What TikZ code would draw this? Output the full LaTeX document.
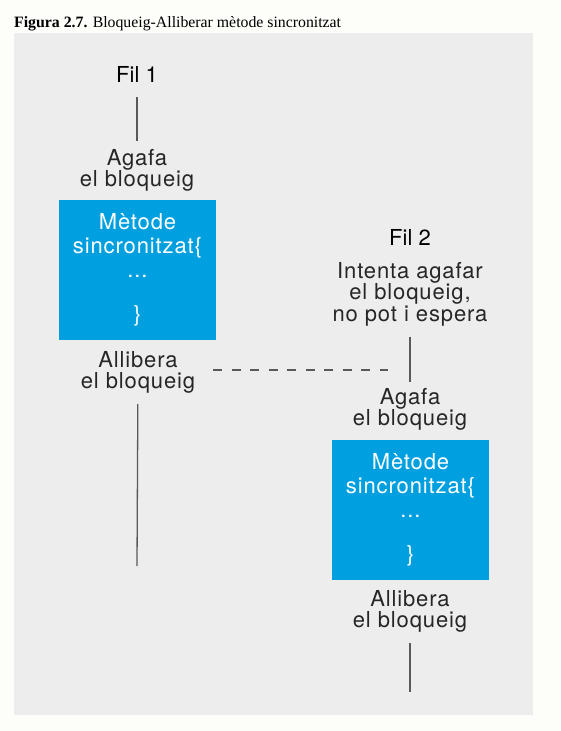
\documentclass[tikz,border=0pt]{standalone}
\usepackage{fontspec}
\setmainfont{Liberation Serif}
\newfontfamily\helv[LetterSpace=4]{TeX Gyre Heros}
\newfontfamily\helvfil{TeX Gyre Heros}
\definecolor{paper}{HTML}{FDFEF9}
\definecolor{fons}{HTML}{EDEDED}
\definecolor{blau}{HTML}{009FE0}
\definecolor{linia}{HTML}{595959}
\definecolor{lletra}{HTML}{262626}

\begin{document}
\begin{tikzpicture}[x=1pt, y=-1pt,
    txt/.style={inner sep=0pt, anchor=base, align=center, text=lletra,
      font=\helv\fontsize{22}{21.5}\selectfont},
    fil/.style={inner sep=0pt, anchor=base, text=black,
      font=\helvfil\fontsize{22}{21.5}\selectfont},
    metode/.style={fill=blau, minimum width=157pt, minimum height=140pt,
      inner sep=0pt, align=center, text=white,
      font=\helv\fontsize{22}{24}\selectfont},
    fletxa/.style={draw=linia, line width=1.3pt}]
  \useasboundingbox (0,0) rectangle (560,731);
  \fill[paper] (0,0) rectangle (560,731);
  \fill[fons] (14,33) rectangle (533,715);

  \node[anchor=base west, inner sep=0pt, font=\fontsize{15.8}{18}\selectfont] (titol) at (14,27)
    {\textbf{Figura 2.7.} Bloqueig-Alliberar mètode sincronitzat};

  % fil 1
  \node[fil] (fil1) at (137,82) {Fil 1};
  \node[txt] (agafa1) at (137,186.5) {Agafa\\el bloqueig};
  \node[metode] (met1) at (137.5,270) {Mètode\\sincronitzat\{\\...\\[20pt]\}};
  \node[txt] (allib1) at (138,388.5) {Allibera\\el bloqueig};
  \coordinate (fi1) at (137,566);

  % fil 2
  \node[fil] (fil2) at (410,245) {Fil 2};
  \node[txt] (intenta) at (410,321) {Intenta agafar\\el bloqueig,\\no pot i espera};
  \node[txt] (agafa2) at (410,425.5) {Agafa\\el bloqueig};
  \node[metode] (met2) at (410.5,510) {Mètode\\sincronitzat\{\\...\\[20pt]\}};
  \node[txt] (allib2) at (410,627.5) {Allibera\\el bloqueig};
  \coordinate (fi2) at (410,692);

  \draw[fletxa, shorten <=15pt, shorten >=8pt] (fil1) -- (agafa1);
  \draw[fletxa, shorten <=10.5pt] (allib1) -- (fi1);
  \draw[fletxa, shorten <=10.5pt, shorten >=6pt] (intenta) -- (agafa2);
  \draw[fletxa, shorten <=10.5pt] (allib2) -- (fi2);

  % alliberament
  \coordinate (d1) at (213,370);
  \coordinate (d2) at (388,370);
  \draw[fletxa, dash pattern=on 9.3pt off 9.2pt] (d1) -- (d2);
\end{tikzpicture}
\end{document}
